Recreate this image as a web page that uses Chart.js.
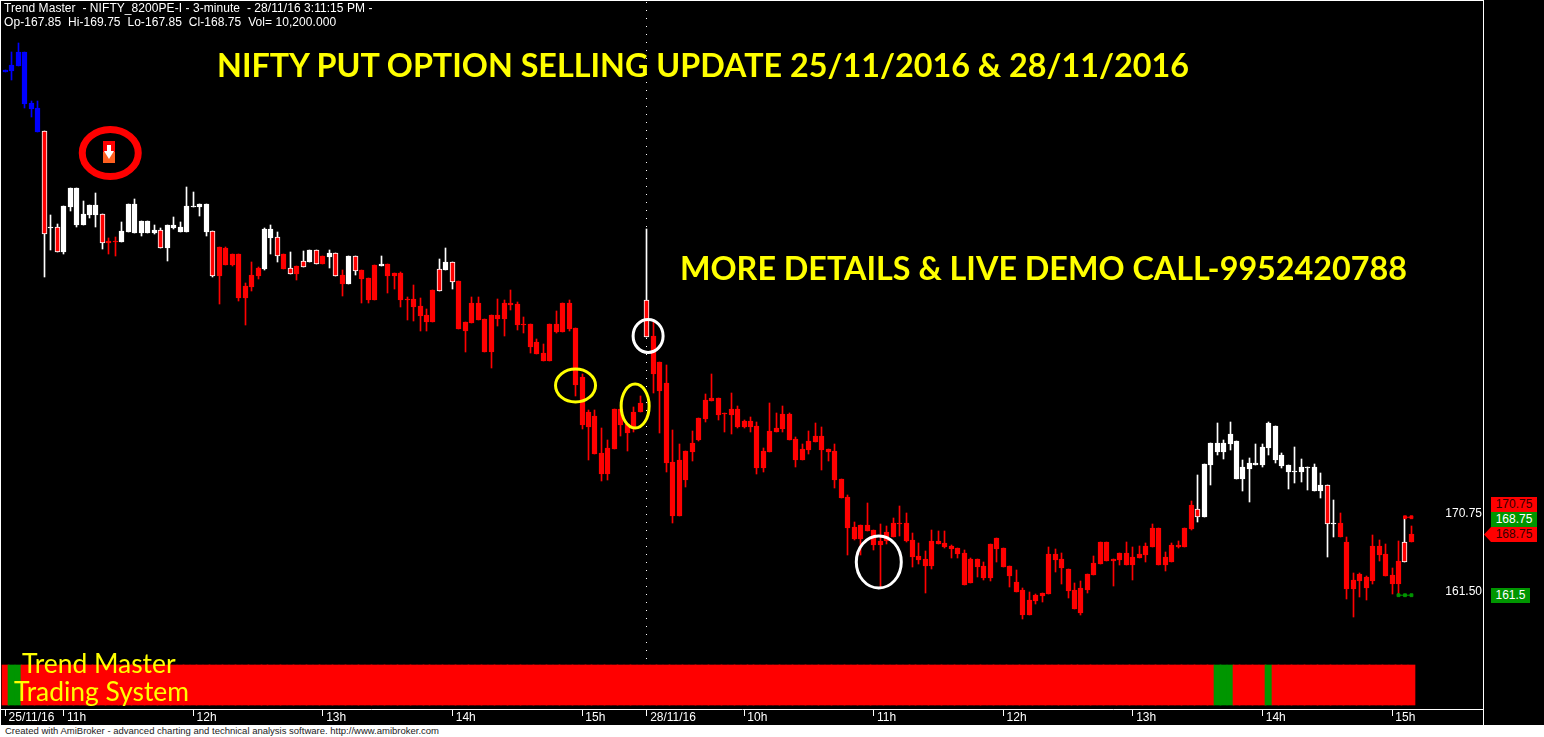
<!DOCTYPE html>
<html>
<head>
<meta charset="utf-8">
<title>NIFTY_8200PE-I</title>
<script src="https://cdn.jsdelivr.net/npm/chart.js@4"></script>
<style>
  html, body { margin: 0; padding: 0; background: #000; width: 1544px; height: 737px; overflow: hidden; }
  #chartBox { position: absolute; left: 0; top: 0; }
  .txt { position: absolute; white-space: pre; font-family: "Liberation Sans", Arial, sans-serif; }
  .head { left: 4px; color: #fff; font-size: 12px; line-height: 14px; letter-spacing: 0.06px; }
  .banner { color: #ff0; font-family: Lato, sans-serif; font-weight: 700; font-size: 32.3px; line-height: 40px; }
  .brand { color: #ff0; font-family: Lato, sans-serif; font-size: 26.4px; line-height: 30px; }
  .tag { font-size: 12px; line-height: 15px; height: 15px; text-align: center; }
  #rightLine { position: absolute; left: 1483px; top: 0; width: 1px; height: 725px; background: #fff; }
  #topLine { position: absolute; left: 0; top: 0; width: 1484px; height: 1px; background: #fff; }
  #leftLine { position: absolute; left: 0; top: 0; width: 1px; height: 725px; background: #fff; }
  #footer { position: absolute; left: 0; top: 725px; width: 1544px; height: 12px; background: #fff; color: #222; font-family: "Liberation Sans", Arial, sans-serif; font-size: 9.5px; line-height: 12px; padding-left: 5px; white-space: pre; }
</style>
</head>
<body>
<canvas id="chartBox" width="1484" height="725"></canvas>
<div id="topLine"></div><div id="leftLine"></div><div id="rightLine"></div>

<div class="txt head" style="top:1px">Trend Master  - NIFTY_8200PE-I - 3-minute  - 28/11/16 3:11:15 PM -</div>
<div class="txt head" style="top:15px">Op-167.85  Hi-169.75  Lo-167.85  Cl-168.75  Vol= 10,200.000</div>
<div class="txt banner" style="left:217px;top:45px">NIFTY PUT OPTION SELLING UPDATE 25/11/2016 &amp; 28/11/2016</div>
<div class="txt banner" style="left:680px;top:248px">MORE DETAILS &amp; LIVE DEMO CALL-9952420788</div>
<div class="txt brand" style="left:22px;top:648px">Trend Master</div>
<div class="txt brand" style="left:14px;top:676px">Trading System</div>

<div class="txt tag" style="left:1491px;top:497px;width:46px;background:#f00;color:#300">170.75</div>
<div class="txt tag" style="left:1491px;top:512px;width:46px;background:#009600;color:#fff">168.75</div>
<div class="txt tag" style="left:1484px;top:527px;width:53px;padding-left:0;background:#f00;color:#300;clip-path:polygon(0 50%,7px 0,100% 0,100% 100%,7px 100%);text-indent:7px">168.75</div>
<div class="txt tag" style="left:1491px;top:588px;width:39px;background:#009600;color:#fff">161.5</div>

<div id="footer">Created with AmiBroker - advanced charting and technical analysis software. http://www.amibroker.com</div>

<script>
// ===== DATOS =====
const highs = [
  223.85,225.99,227.06,225.99,220.14,220.14,216.58,206.61,205.54,207.68,
  209.81,209.81,208.27,207.80,209.22,206.73,203.88,204.00,205.78,207.92,
  208.51,205.90,205.90,205.42,205.07,205.42,206.37,205.78,209.93,209.34,
  207.92,207.92,204.71,202.81,202.81,201.98,201.98,198.54,201.03,200.44,
  205.07,205.42,204.59,201.98,202.22,200.56,202.34,202.46,202.46,201.75,
  202.46,202.10,200.09,201.75,201.75,200.09,199.14,200.68,201.75,200.80,
  199.73,199.85,196.88,198.31,196.77,195.46,197.71,201.39,202.70,201.04,
  198.78,193.92,196.88,196.88,194.27,194.75,196.65,196.53,197.71,196.29,
  194.51,193.68,191.90,191.31,193.68,195.22,196.17,196.53,193.21,187.75,
  183.48,183.48,181.34,179.92,183.60,183.60,181.82,183.83,185.14,204.95,
  193.92,189.17,188.82,181.10,179.44,178.61,180.99,182.53,185.37,187.75,
  184.90,183.12,185.49,183.95,182.29,182.65,182.05,178.97,184.31,183.12,
  183.95,183.12,180.27,179.44,180.99,181.93,181.46,178.85,179.44,175.29,
  173.39,170.19,169.83,172.44,169.24,169.95,169.71,170.66,172.09,171.26,
  168.89,167.70,166.75,169.24,169.13,169.13,167.46,167.11,166.87,165.92,
  165.80,165.45,167.58,168.29,167.11,164.97,164.50,162.36,161.89,161.65,
  161.77,167.23,167.00,166.52,164.62,162.96,163.19,164.02,166.16,167.82,
  167.82,165.80,166.52,167.82,167.23,167.35,167.70,169.96,169.48,166.63,
  167.70,167.94,169.48,172.68,175.77,177.07,179.56,181.94,179.92,182.06,
  179.80,177.55,177.78,179.45,179.45,182.06,181.58,178.38,176.95,179.09,
  177.67,176.72,177.07,176.01,174.58,172.80,171.26,168.41,164.14,164.14,
  163.78,168.65,168.06,167.58,164.73,167.94,170.78,169.72
];
const bodyTop = [
  223.85,224.41,225.99,225.99,219.90,219.35,216.58,205.19,205.19,207.68,
  209.81,209.81,206.73,207.80,207.80,206.73,203.53,203.53,204.71,207.92,
  207.92,205.90,205.90,204.83,204.83,205.42,205.42,205.19,207.68,207.68,
  207.92,207.92,204.71,202.81,202.69,201.98,201.98,198.19,199.49,200.32,
  204.95,204.95,204.00,201.98,200.32,200.56,201.15,202.46,202.46,201.75,
  202.10,202.10,199.49,201.75,201.75,200.09,199.14,200.68,200.80,200.80,
  199.73,199.73,196.65,196.65,195.82,194.75,197.71,200.21,201.04,201.04,
  198.78,193.92,196.17,196.17,194.27,194.75,194.75,196.17,196.17,196.05,
  193.68,193.68,191.54,190.24,193.68,193.68,196.17,196.17,193.21,187.39,
  183.24,182.76,178.37,178.97,183.60,183.60,181.82,183.24,184.31,196.53,
  192.26,189.17,186.68,177.31,177.54,178.61,179.56,182.53,184.66,184.90,
  184.90,183.12,183.60,183.60,182.17,182.17,181.58,178.61,180.99,181.34,
  183.00,183.00,180.04,178.85,179.80,180.39,180.39,178.85,178.61,175.29,
  173.15,169.59,169.83,169.83,169.24,167.93,169.00,170.07,170.07,170.07,
  168.06,166.16,165.80,167.94,167.94,167.70,167.35,167.11,166.52,165.80,
  165.80,164.97,167.58,168.29,167.11,164.97,163.07,162.12,160.94,161.53,
  161.77,166.40,166.40,165.80,164.62,162.12,162.36,164.02,165.33,167.82,
  167.82,165.80,166.52,166.52,166.04,166.40,167.35,169.48,169.48,166.04,
  167.46,167.46,169.48,172.21,171.73,177.07,179.56,179.56,179.56,180.63,
  179.80,176.72,177.19,177.15,179.09,181.94,181.58,178.14,176.95,176.24,
  176.72,176.72,176.72,174.58,174.58,170.07,170.07,167.82,163.31,164.02,
  163.67,167.34,167.34,166.39,163.90,165.56,167.82,168.77
];
const bodyBottom = [
  223.62,223.70,224.33,219.78,219.19,216.46,204.36,205.07,202.22,202.22,
  207.56,205.42,205.42,206.61,206.61,203.29,203.29,203.45,203.41,204.59,
  204.47,204.47,204.47,204.47,202.69,202.69,205.07,204.59,204.59,207.56,
  207.56,204.59,199.37,199.37,200.68,200.68,196.76,196.76,198.07,199.37,
  200.20,203.88,201.75,200.20,199.61,199.61,200.44,201.03,200.80,200.80,
  201.63,199.37,198.43,198.43,199.97,199.02,196.53,196.53,200.56,199.38,
  199.38,196.53,196.53,195.70,194.63,193.92,193.92,197.60,200.09,198.66,
  193.09,192.85,193.80,194.15,190.36,190.36,194.27,194.27,195.93,193.56,
  193.56,190.95,190.12,189.29,189.29,192.73,192.73,193.09,186.44,181.70,
  181.46,178.26,175.88,175.88,178.85,181.70,180.75,181.46,183.24,192.14,
  187.75,185.73,177.19,170.90,170.90,175.17,178.49,179.92,182.41,184.54,
  182.88,183.00,182.88,181.46,181.46,181.46,176.59,176.59,178.49,180.87,
  181.22,179.92,177.54,177.54,178.73,179.68,178.73,178.49,175.17,173.04,
  169.48,168.17,168.17,169.12,167.46,167.46,167.93,168.41,169.95,167.93,
  166.04,165.68,164.97,164.97,167.58,167.23,166.99,166.40,162.72,162.96,
  164.85,163.55,163.55,166.99,164.85,163.79,161.89,159.16,159.16,160.82,
  161.41,161.65,165.68,164.74,162.01,159.87,159.40,162.12,163.90,165.21,
  165.57,165.57,165.68,165.09,165.09,165.92,166.28,167.23,165.09,165.09,
  165.45,167.23,167.23,169.36,170.78,170.78,176.95,178.50,178.50,179.45,
  175.29,175.29,176.48,176.95,176.95,178.97,177.55,176.84,176.12,176.12,
  176.12,176.60,173.87,173.87,169.95,169.95,168.41,162.24,162.24,163.19,
  162.36,163.19,166.28,163.78,162.83,162.83,165.45,167.82
];
const lows = [
  223.62,222.63,224.33,219.35,218.24,216.46,199.29,202.46,202.22,201.98,
  207.09,205.19,205.42,206.25,205.19,202.58,201.98,201.75,203.41,204.59,
  204.47,204.12,204.47,204.36,202.69,201.15,204.95,204.59,204.59,207.56,
  206.49,204.12,199.25,196.05,200.68,200.56,196.41,193.56,197.59,199.02,
  200.08,201.98,201.03,200.20,199.61,198.90,200.44,201.03,200.80,200.80,
  200.32,199.37,197.00,198.43,199.49,196.17,196.17,196.53,200.56,197.36,
  197.83,195.70,194.15,194.04,192.85,192.85,193.92,197.60,200.09,197.83,
  193.09,190.36,193.80,194.15,190.36,188.46,193.44,192.26,195.34,192.97,
  192.61,190.24,190.12,189.29,189.29,192.61,192.73,192.85,185.14,181.22,
  177.54,178.26,175.05,175.17,178.85,180.39,178.61,180.87,183.24,192.14,
  185.49,180.75,176.12,170.07,170.90,174.34,177.43,179.80,182.05,184.54,
  182.29,180.87,180.63,181.34,181.34,180.87,175.88,176.12,178.49,180.87,
  180.87,179.92,176.71,177.54,178.26,179.68,176.36,177.43,174.22,173.04,
  166.27,168.05,166.27,169.12,166.87,162.36,167.58,168.41,168.53,167.82,
  164.85,165.21,161.77,164.62,167.58,167.11,165.92,165.92,162.72,162.96,
  163.67,163.31,163.19,165.45,164.85,162.48,161.89,158.68,159.16,160.46,
  160.70,161.65,164.26,162.84,161.18,159.87,159.16,161.77,163.90,165.21,
  165.57,162.60,165.09,165.09,163.31,165.92,165.45,167.23,165.09,164.38,
  165.45,167.11,167.23,169.24,170.19,170.78,174.58,178.14,177.67,178.73,
  175.29,173.87,172.56,176.95,176.72,178.14,177.19,176.60,174.11,174.82,
  174.94,173.99,173.87,173.04,166.04,168.41,168.41,161.06,158.92,161.29,
  160.94,162.83,165.56,163.78,161.65,161.53,165.45,167.82
];

// B = inicio, W = blanca, R = roja, M = roja con borde blanco
const barClass = (
  "BBBBBB" + "MWM" + "WWWWWW" + "M" + "RR" + "WWWWWW" + "M" + "WWWWWWW" + "M" + "RRRRRRR" +
  "WW" + "MRMRMWMRWMRWM" + "RRR" + "W" + "RRRRRRRR" + "MWM" + "R".repeat(29) + "M" +
  "R".repeat(84) + "M" + "W".repeat(19) + "MW" + "R".repeat(10) + "MR"
).split("");

// barras en verde de la franja inferior
const ribbonGreen = [1, 2, 187, 188, 189, 195];

const tickBars = [0, 9, 29, 49, 69, 89, 99, 114, 134, 154, 174, 194, 214];
const tickLabels = ["25/11/16", "11h", "12h", "13h", "14h", "15h", "28/11/16", "10h", "11h", "12h", "13h", "14h", "15h"];

const priceTicks = [170.75, 161.5];
const highLevelBars = [216, 217];
const lowLevelBars = [215, 216, 217];
const dayBreakBar = 99;

// marcas dibujadas a mano sobre el grafico: barra, precio
const whiteMarks = [[99.2, 192.26], [134.8, 165.44]];
const yellowMarks = [[88, 186.38], [97.2, 183.95]];
const signalMark = [16.2, 213.97];

// ===== COLORES =====
const fillColors = { B: "#0000ff", W: "#ffffff", R: "#ff0000", M: "#ff0000" };
const edgeColors = { B: "#0000ff", W: "#ffffff", R: "#ff0000", M: "#ffffff" };
const green = "#009600";

const bars = barClass.map((_, i) => i);

// pasa las barras a pixeles enteros, como el original
const crispBars = {
  id: "crispBars",
  afterDatasetsUpdate(chart) {
    chart.data.datasets.forEach((ds, i) => {
      if (ds.type !== "bar") return;
      chart.getDatasetMeta(i).data.forEach((el) => {
        el.x = Math.floor(el.x) + 0.5;
        el.y = Math.round(el.y);
        el.base = Math.round(el.base);
        if (el.y === el.base) el.base = el.y + 1;
      });
    });
  },
};

const ellipse = (ctx, x, y, rx, ry, color, width) => {
  ctx.strokeStyle = color;
  ctx.lineWidth = width;
  ctx.beginPath();
  ctx.ellipse(x, y, rx, ry, 0, 0, Math.PI * 2);
  ctx.stroke();
};

// separador de dias, debajo de las velas
const dayBreak = {
  id: "dayBreak",
  beforeDatasetsDraw(chart) {
    const { ctx, scales } = chart;
    const x = Math.floor(scales.x.getPixelForValue(dayBreakBar)) + 0.5;
    ctx.save();
    ctx.strokeStyle = "#fff";
    ctx.setLineDash([1, 7]);
    ctx.beginPath();
    ctx.moveTo(x, 2);
    ctx.lineTo(x, 664);
    ctx.stroke();
    ctx.restore();
  },
};

// circulos y senal de venta
const marks = {
  id: "marks",
  afterDatasetsDraw(chart) {
    const { ctx, scales } = chart;
    const px = (m) => [scales.x.getPixelForValue(m[0]), scales.y.getPixelForValue(m[1])];
    ctx.save();
    let p = px(whiteMarks[0]);
    ellipse(ctx, p[0], p[1], 15, 16.5, "#fff", 3);
    p = px(whiteMarks[1]);
    ellipse(ctx, p[0], p[1], 22.5, 26, "#fff", 3);
    p = px(yellowMarks[0]);
    ellipse(ctx, p[0], p[1], 20, 16.5, "#ffff00", 3);
    p = px(yellowMarks[1]);
    ellipse(ctx, p[0], p[1], 14, 22, "#ffff00", 3);
    p = px(signalMark);
    ellipse(ctx, p[0], p[1], 28, 23.5, "#ff0000", 7);
    const sx = Math.round(p[0]) - 7;
    const sy = Math.round(p[1]) - 12;
    ctx.fillStyle = "#ff0000";
    ctx.fillRect(sx, sy, 12, 12);
    ctx.fillStyle = "#ff6020";
    ctx.fillRect(sx, sy + 11, 12, 11);
    ctx.fillStyle = "#fff";
    ctx.fillRect(sx + 4, sy + 4, 4, 7);
    ctx.beginPath();
    ctx.moveTo(sx + 1, sy + 10);
    ctx.lineTo(sx + 11, sy + 10);
    ctx.lineTo(sx + 6, sy + 18);
    ctx.closePath();
    ctx.fill();
    ctx.restore();
  },
};

new Chart(document.getElementById("chartBox").getContext("2d"), {
  data: {
    datasets: [
      {
        type: "line",
        order: 0,
        data: highLevelBars.map((b) => ({ x: b, y: priceTicks[0] })),
        borderColor: "#ff0000",
        backgroundColor: "#ff0000",
        borderWidth: 1,
        pointStyle: "rect",
        pointRadius: 2,
      },
      {
        type: "line",
        order: 0,
        data: lowLevelBars.map((b) => ({ x: b, y: priceTicks[1] })),
        borderColor: green,
        backgroundColor: green,
        borderWidth: 1,
        pointStyle: "rect",
        pointRadius: 2,
      },
      {
        type: "bar",
        order: 1,
        data: bars.map((i) => ({ x: i, y: [bodyBottom[i], bodyTop[i]] })),
        barThickness: 5,
        minBarLength: 1,
        borderWidth: 1,
        borderSkipped: false,
        backgroundColor: bars.map((i) => fillColors[barClass[i]]),
        borderColor: bars.map((i) => edgeColors[barClass[i]]),
      },
      {
        type: "bar",
        order: 2,
        data: bars.map((i) => ({ x: i, y: [lows[i], highs[i]] })),
        barThickness: 1,
        borderWidth: 0,
        backgroundColor: bars.map((i) => edgeColors[barClass[i]]),
      },
      {
        type: "bar",
        order: 3,
        yAxisID: "ribbon",
        data: bars.map((i) => ({ x: i, y: [0, 1] })),
        barThickness: 7,
        borderWidth: 0,
        backgroundColor: bars.map((i) => (ribbonGreen.includes(i) ? green : "#ff0000")),
      },
    ],
  },
  options: {
    responsive: false,
    animation: false,
    grouped: false,
    layout: { autoPadding: false, padding: { left: 1, right: 1, top: 1, bottom: 0 } },
    plugins: { legend: { display: false }, tooltip: { enabled: false } },
    scales: {
      x: {
        type: "linear",
        offset: false,
        min: -0.66,
        max: 228.04,
        afterBuildTicks: (s) => { s.ticks = tickBars.map((v) => ({ value: v })); },
        afterFit: (s) => { s.height = 16; },
        border: { color: "#ffffff" },
        grid: { offset: false, drawOnChartArea: false, color: "#ffffff", tickLength: 7 },
        ticks: {
          color: "#ffffff",
          align: "start",
          maxRotation: 0,
          autoSkip: false,
          padding: -6,
          font: { family: "Liberation Sans", size: 12 },
          callback: (v) => " " + tickLabels[tickBars.indexOf(v)],
        },
      },
      y: {
        position: "right",
        min: 148,
        max: 232,
        afterBuildTicks: (s) => { s.ticks = priceTicks.map((v) => ({ value: v })); },
        afterFit: (s) => { s.width = 0; s.paddingTop = 0; s.paddingBottom = 0; },
        border: { display: false },
        grid: { display: false },
        ticks: {
          mirror: true,
          padding: -1,
          labelOffset: -4,
          color: "#ffffff",
          font: { family: "Liberation Sans", size: 12 },
          callback: (v) => v.toFixed(2),
        },
      },
      ribbon: {
        position: "left",
        min: -0.1,
        max: 17.6,
        afterFit: (s) => { s.width = 0; s.paddingTop = 0; s.paddingBottom = 0; },
        border: { display: false },
        grid: { display: false },
        ticks: { display: false },
      },
    },
  },
  plugins: [crispBars, dayBreak, marks],
});
</script>
</body>
</html>
